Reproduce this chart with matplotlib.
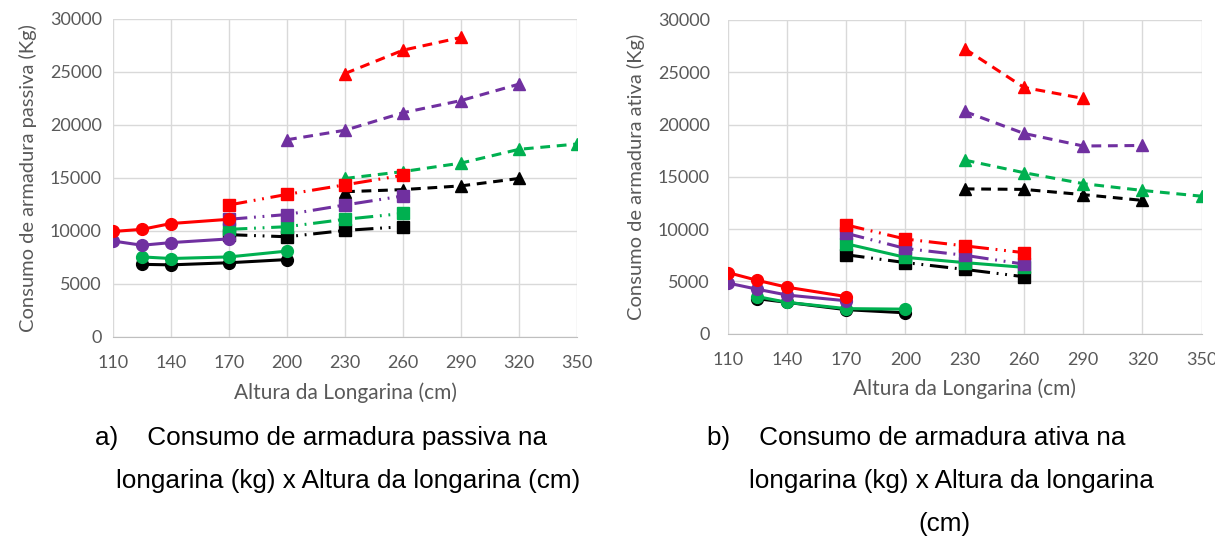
import matplotlib.pyplot as plt

# alturas (cm)
x_circ_a = [110, 125, 140, 170]
x_circ_b = [125, 140, 170, 200]
x_quad = [170, 200, 230, 260]

# armadura passiva (kg)
pas_circ = {
    'red': [9950, 10150, 10700, 11100],
    'purple': [9050, 8650, 8900, 9250],
    'green': [7550, 7400, 7550, 8100],
    'black': [6850, 6800, 7000, 7300],
}
pas_quad = {
    'red': [12450, 13450, 14350, 15250],
    'purple': [11100, 11550, 12450, 13300],
    'green': [10150, 10400, 11100, 11650],
    'black': [9650, 9450, 10050, 10400],
}
pas_tri_x = {
    'red': [230, 260, 290],
    'purple': [200, 230, 260, 290, 320],
    'green': [230, 260, 290, 320, 350],
    'black': [230, 260, 290, 320],
}
pas_tri = {
    'red': [24850, 27050, 28250],
    'purple': [18600, 19500, 21150, 22300, 23850],
    'green': [14950, 15600, 16400, 17700, 18200],
    'black': [13700, 13900, 14250, 14950],
}

# armadura ativa (kg)
atv_circ = {
    'red': [5850, 5100, 4450, 3550],
    'purple': [4850, 4250, 3700, 3150],
    'green': [3550, 3000, 2400, 2350],
    'black': [3350, 3000, 2300, 2000],
}
atv_quad = {
    'red': [10400, 9050, 8400, 7750],
    'purple': [9600, 8150, 7500, 6650],
    'green': [8600, 7300, 6800, 6350],
    'black': [7550, 6800, 6150, 5450],
}
atv_tri_x = {
    'red': [230, 260, 290],
    'purple': [230, 260, 290, 320],
    'green': [230, 260, 290, 320, 350],
    'black': [230, 260, 290, 320],
}
atv_tri = {
    'red': [27250, 23550, 22500],
    'purple': [21250, 19150, 17950, 18000],
    'green': [16600, 15400, 14350, 13700, 13150],
    'black': [13850, 13800, 13300, 12750],
}

cores = {'red': '#FF0000', 'purple': '#7030A0', 'green': '#00B050', 'black': '#000000'}
ordem = ['black', 'green', 'purple', 'red']

xticks = [110, 140, 170, 200, 230, 260, 290, 320, 350]
yticks = [0, 5000, 10000, 15000, 20000, 25000, 30000]

dash_tri = (0, (3.2, 2.2))
dash_quad = (0, (6, 2.2, 0.6, 2.2, 0.6, 2.2))

plt.rcParams['font.family'] = ['Lato', 'DejaVu Sans']

fig = plt.figure(figsize=(12.15, 5.4), dpi=100)
ax1 = fig.add_axes([0.093, 0.376, 0.382, 0.589])
ax2 = fig.add_axes([0.599, 0.382, 0.390, 0.581])


def painel(ax, circ, quad, tri_x, tri, ylabel, ypad, quad_solido_verde=False):
    for c in ordem:
        cor = cores[c]
        xc = x_circ_a if c in ('red', 'purple') else x_circ_b
        ax.plot(xc, circ[c], '-', color=cor, lw=2.2, marker='o', ms=8.5, zorder=3)
        ls = '-' if (quad_solido_verde and c == 'green') else dash_quad
        ax.plot(x_quad, quad[c], linestyle=ls, color=cor, lw=2.2, marker='s', ms=8.5, zorder=3)
        ax.plot(tri_x[c], tri[c], linestyle=dash_tri, color=cor, lw=2.2, marker='^', ms=9, zorder=3)

    ax.set_xlim(110, 350)
    ax.set_ylim(0, 30000)
    ax.set_xticks(xticks)
    ax.set_yticks(yticks)
    ax.grid(True, color='#D9D9D9', lw=1)
    ax.set_axisbelow(True)
    for s in ('top', 'right', 'left'):
        ax.spines[s].set_visible(False)
    ax.spines['bottom'].set_color('#BFBFBF')
    ax.tick_params(length=0, labelsize=13, colors='#595959')
    ax.tick_params(axis='x', pad=13)
    ax.tick_params(axis='y', pad=ypad)
    ax.set_xlabel('Altura da Longarina (cm)', fontsize=15, color='#595959', labelpad=8)
    ax.set_ylabel(ylabel, fontsize=14.5, color='#595959', labelpad=9)


painel(ax1, pas_circ, pas_quad, pas_tri_x, pas_tri, 'Consumo de armadura passiva (Kg)', 8)
painel(ax2, atv_circ, atv_quad, atv_tri_x, atv_tri, 'Consumo de armadura ativa (Kg)', 13,
       quad_solido_verde=True)

cap = dict(fontsize=18.8, color='black', family=['Liberation Sans'])
fig.text(95 / 1215, 1 - 438 / 540, 'a)    Consumo de armadura passiva na', va='center', ha='left', **cap)
fig.text(348 / 1215, 1 - 481 / 540, 'longarina (kg) x Altura da longarina (cm)', va='center', ha='center', **cap)
fig.text(707 / 1215, 1 - 438 / 540, 'b)    Consumo de armadura ativa na', va='center', ha='left', **cap)
fig.text(951 / 1215, 1 - 481 / 540, 'longarina (kg) x Altura da longarina', va='center', ha='center', **cap)
fig.text(944 / 1215, 1 - 524 / 540, '(cm)', va='center', ha='center', **cap)

fig.savefig('out.png', dpi=100)
